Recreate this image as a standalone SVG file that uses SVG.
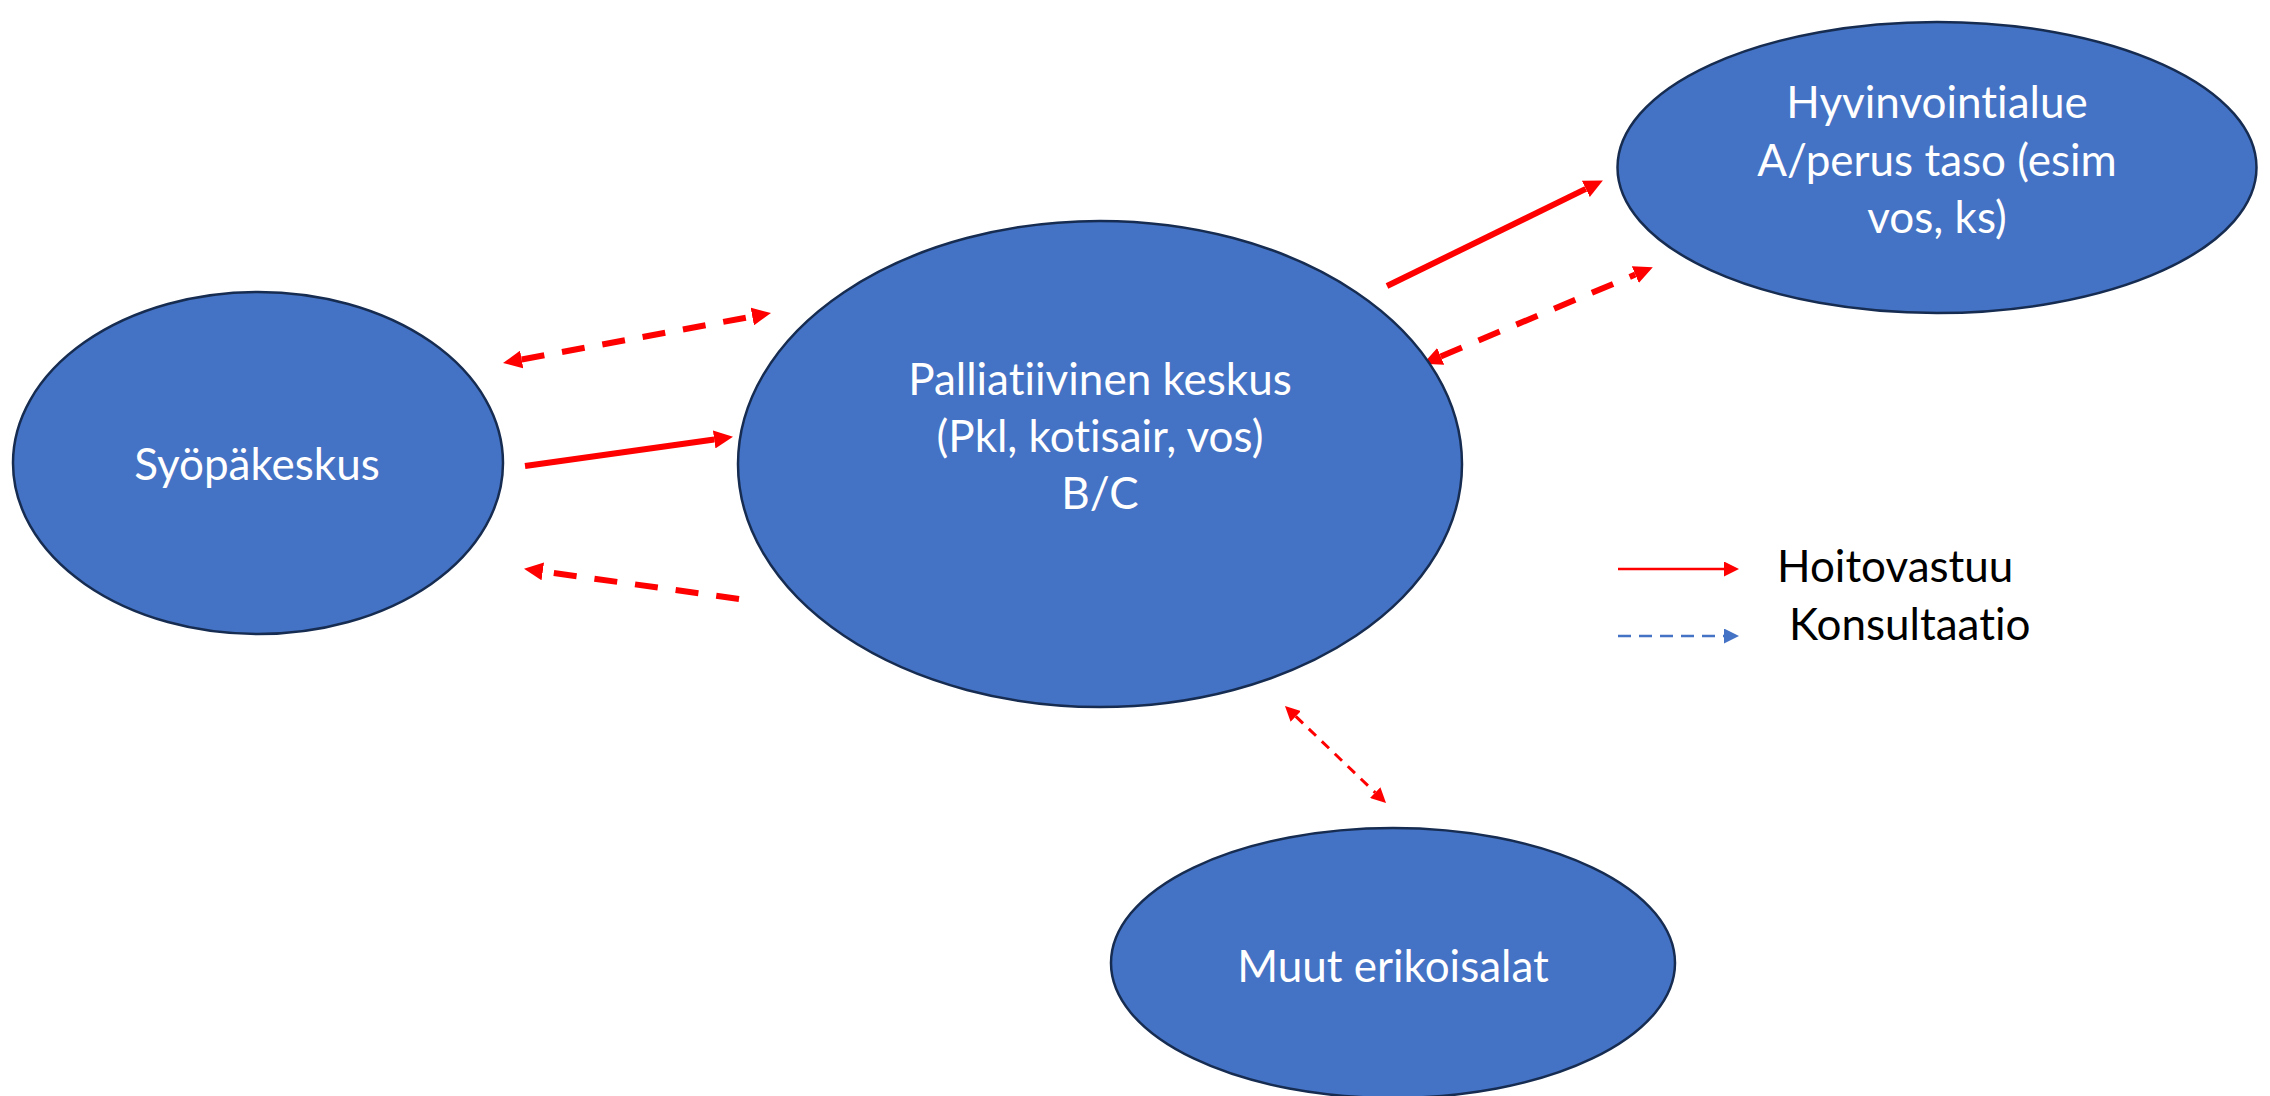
<svg xmlns="http://www.w3.org/2000/svg" width="2270" height="1096" viewBox="0 0 2270 1096">
  <style>
    .node { fill: #4472C4; stroke: #172C51; stroke-width: 2.5; }
    .label { font-family: Lato, "Open Sans", "Liberation Sans", sans-serif; font-size: 44px; fill: #FFFFFF; text-anchor: middle; font-variant-ligatures: none; }
    .legend-text { font-family: Lato, "Open Sans", "Liberation Sans", sans-serif; font-size: 44px; fill: #000000; font-variant-ligatures: none; }
    .care { fill: none; stroke: #FF0000; stroke-width: 6; }
    .consult { fill: none; stroke: #FF0000; stroke-width: 6; stroke-dasharray: 23 18; }
    .consult-thin { fill: none; stroke: #FF0000; stroke-width: 3; stroke-dasharray: 10 8; }
  </style>
  <defs>
    <marker id="head-red" markerUnits="userSpaceOnUse" viewBox="0 0 19 18" refX="0" refY="9" markerWidth="19" markerHeight="18" orient="auto-start-reverse">
      <path d="M0,0 L19,9 L0,18 Z" fill="#FF0000"/>
    </marker>
    <marker id="head-red-small" markerUnits="userSpaceOnUse" viewBox="0 0 15 15" refX="0" refY="7.5" markerWidth="15" markerHeight="15" orient="auto-start-reverse">
      <path d="M0,0 L15,7.5 L0,15 Z" fill="#FF0000"/>
    </marker>
    <marker id="head-blue-small" markerUnits="userSpaceOnUse" viewBox="0 0 15 15" refX="0" refY="7.5" markerWidth="15" markerHeight="15" orient="auto">
      <path d="M0,0 L15,7.5 L0,15 Z" fill="#4472C4"/>
    </marker>
  </defs>

  <rect x="0" y="0" width="2270" height="1096" fill="#FFFFFF"/>

  <!-- connectors -->
  <g id="connectors">
    <!-- Syöpäkeskus <-> Palliatiivinen keskus (consultation) -->
    <path class="consult" d="M521.7,359.5 L752.3,316.5" marker-start="url(#head-red)" marker-end="url(#head-red)"/>
    <!-- Syöpäkeskus -> Palliatiivinen keskus (care responsibility) -->
    <path class="care" d="M525,466 L714.2,439.5" marker-end="url(#head-red)"/>
    <!-- Palliatiivinen keskus -> Syöpäkeskus (consultation) -->
    <path class="consult" stroke-dasharray="24 17" d="M739,599 L542.8,571.4" marker-end="url(#head-red)"/>
    <!-- Palliatiivinen keskus -> Hyvinvointialue (care responsibility) -->
    <path class="care" d="M1387,286 L1585.8,188.9" marker-end="url(#head-red)"/>
    <!-- Palliatiivinen keskus <-> Hyvinvointialue (consultation) -->
    <path class="consult" d="M1440.7,356.4 L1635.3,274.6" marker-start="url(#head-red)" marker-end="url(#head-red)"/>
    <!-- Palliatiivinen keskus <-> Muut erikoisalat (consultation) -->
    <path class="consult-thin" d="M1295.8,716.4 L1375.2,792.6" marker-start="url(#head-red-small)" marker-end="url(#head-red-small)"/>
  </g>

  <!-- nodes -->
  <g id="syopakeskus">
    <ellipse class="node" cx="258" cy="463" rx="245" ry="171"/>
    <text class="label" x="257" y="480">Syöpäkeskus</text>
  </g>

  <g id="palliatiivinen-keskus">
    <ellipse class="node" cx="1100" cy="464" rx="362" ry="243"/>
    <text class="label" x="1100" y="395">Palliatiivinen keskus</text>
    <text class="label" x="1100" y="452">(Pkl, kotisair, vos)</text>
    <text class="label" x="1100" y="509">B/C</text>
  </g>

  <g id="hyvinvointialue">
    <ellipse class="node" cx="1937" cy="167.5" rx="319.5" ry="145.5"/>
    <text class="label" x="1937" y="118">Hyvinvointialue</text>
    <text class="label" x="1937" y="176">A/perus taso (esim</text>
    <text class="label" x="1937" y="233">vos, ks)</text>
  </g>

  <g id="muut-erikoisalat">
    <ellipse class="node" cx="1393" cy="963" rx="282" ry="135"/>
    <text class="label" x="1393" y="982">Muut erikoisalat</text>
  </g>

  <!-- legend -->
  <g id="legend">
    <path d="M1618,569 L1724,569" fill="none" stroke="#FF0000" stroke-width="2.5" marker-end="url(#head-red-small)"/>
    <text class="legend-text" x="1777" y="582">Hoitovastuu</text>
    <path d="M1618,636 L1724,636" fill="none" stroke="#4472C4" stroke-width="2.5" stroke-dasharray="13 8" marker-end="url(#head-blue-small)"/>
    <text class="legend-text" x="1789" y="640">Konsultaatio</text>
  </g>
</svg>
